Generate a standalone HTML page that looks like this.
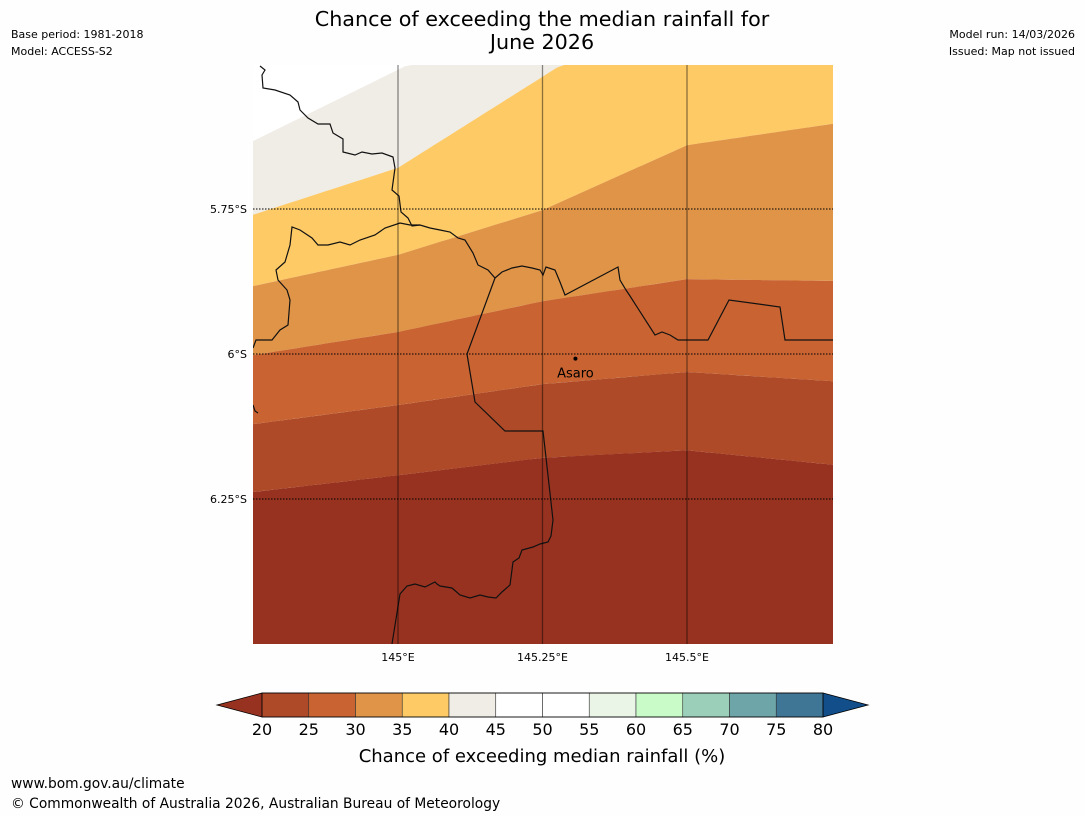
<!DOCTYPE html>
<html><head><meta charset="utf-8"><style>
html,body{margin:0;padding:0;background:#fff;width:1085px;height:816px;overflow:hidden;font-family:"Liberation Sans","DejaVu Sans",sans-serif}
svg{display:block}
svg text{font-family:"DejaVu Sans","Liberation Sans",sans-serif}
</style></head><body>
<svg id="chart" width="1085" height="816" viewBox="0 0 1085 816" xmlns="http://www.w3.org/2000/svg">
<rect width="1085" height="816" fill="#fefefe"/>
<text x="542" y="26" font-size="20.7" text-anchor="middle" fill="#000">Chance of exceeding the median rainfall for</text>
<text x="542" y="49" font-size="20.7" text-anchor="middle" fill="#000">June 2026</text>
<text x="11" y="38" font-size="11">Base period: 1981-2018</text>
<text x="11" y="55" font-size="11">Model: ACCESS-S2</text>
<text x="1075" y="38" font-size="11" text-anchor="end">Model run: 14/03/2026</text>
<text x="1075" y="55" font-size="11" text-anchor="end">Issued: Map not issued</text>
<defs><clipPath id="mapclip"><rect x="253" y="65" width="580" height="579"/></clipPath></defs>
<g id="map" clip-path="url(#mapclip)"></g>
<g id="cbar"></g>
<text x="542" y="762" font-size="18" text-anchor="middle">Chance of exceeding median rainfall (%)</text>
<text x="11" y="788" font-size="13.8">www.bom.gov.au/climate</text>
<text x="11" y="808" font-size="13.8">© Commonwealth of Australia 2026, Australian Bureau of Meteorology</text>
</svg>
<script>
const lons=[144.749,145,145.25,145.5,145.753];
const b1=[-5.633,-5.510,-5.384,-5.266,-5.143];
const b2=[-5.760,-5.679,-5.522,-5.364,-5.205];
const b3=[-5.883,-5.829,-5.752,-5.640,-5.603];
const b4=[-6.002,-5.962,-5.909,-5.871,-5.874];
const b5=[-6.121,-6.088,-6.052,-6.031,-6.047];
const b6=[-6.238,-6.209,-6.179,-6.166,-6.191];
const bandColors=["#ffffff","#f0ece6","#fdca66","#e09447","#c96432","#ae4a27","#983220"];
const lonTicks=[145,145.25,145.5];
const lonLabels=["145°E","145.25°E","145.5°E"];
const latTicks=[-5.75,-6,-6.25];
const latLabels=["5.75°S","6°S","6.25°S"];
const cbLevels=[20,25,30,35,40,45,50,55,60,65,70,75,80];
const cbColors=["#ae4a27","#c96432","#e09447","#fdca66","#f0ece6","#ffffff","#ffffff","#eaf5e8","#c8fbc8","#9ccfb9","#6ea5a8","#3f7696"];
const townName="Asaro", townLon=145.307, townLat=-6.008;

const NS="http://www.w3.org/2000/svg";
const X=lon=>398+(lon-145)*578;
const Y=lat=>209+(-5.75-lat)*580;
const clampY=y=>Math.max(65,Math.min(644,y));
const map=document.getElementById('map');
function el(tag,attrs,parent){const e=document.createElementNS(NS,tag);for(const k in attrs)e.setAttribute(k,attrs[k]);parent.appendChild(e);return e;}
const bounds=[null,b1,b2,b3,b4,b5,b6,null];
for(let i=0;i<7;i++){
  const top=bounds[i],bot=bounds[i+1];
  let pts=[];
  if(top){
    // sample densely so clamping keeps shape
    for(let j=0;j<lons.length-1;j++){
      for(let s=0;s<20;s++){const t=s/20;const l=lons[j]+(lons[j+1]-lons[j])*t;const v=top[j]+(top[j+1]-top[j])*t;pts.push(X(l)+','+clampY(Y(v)));}
    }
    pts.push(X(lons[4])+','+clampY(Y(top[4])));
  } else pts.push(X(lons[0])+',65',X(lons[4])+',65');
  const bp=[];
  if(bot) lons.forEach((l,j)=>bp.push(X(l)+','+clampY(Y(bot[j]))));
  else bp.push(X(lons[0])+',644',X(lons[4])+',644');
  pts=pts.concat(bp.reverse());
  const p=el('polygon',{points:pts.join(' '),fill:bandColors[i]},map);
  
  
}
const borders=[
"M260,66 L265,70 262,75 263,88 275,90 290,95 298,102 300,110 308,118 318,124 330,124 333,133 343,139 343,152 355,155 362,152 372,154 382,153 393,157 395,168 392,190 399,196 401,212 408,218 412,226 420,225 430,228 440,230 450,232 458,238 465,240 473,253 478,265 488,270 495,278 502,272 512,268 522,266 532,268 540,270 543,275 546,267 555,270 560,282 565,295 618,267 620,280 626,290 630,296 655,335 662,332 670,335 678,340 708,340 729,300 780,307 785,340 833,340",
"M495,278 L467,354 475,402 505,431 543,431 553,520 551,536 548,542 540,544 533,547 522,550 519,558 513,562 510,585 502,592 496,598 488,597 480,595 470,598 460,595 452,588 440,586 437,584 435,582 425,587 415,584 407,586 400,594 392,644",
"M253,348 L256,340 272,340 280,330 288,325 290,300 287,290 278,280 276,270 285,262 290,245 292,227 300,230 312,238 318,245 328,245 340,242 350,245 360,240 375,235 385,228 400,223 410,225 420,225",
"M253,405 L255,411 258,413"];
borders.forEach((d,i)=>{const p=el('path',{d:d,fill:'none',stroke:'#111',"stroke-width":1.2},map);

});
lonTicks.forEach((l,i)=>{const ln=el('line',{x1:X(l),x2:X(l),y1:65,y2:644,stroke:'rgba(0,0,0,0.45)',"stroke-width":1.3},map);

});
const svg=document.getElementById('chart');
latTicks.forEach((l,i)=>{const ln=el('line',{x1:253,x2:833,y1:Y(l),y2:Y(l),stroke:'#000',"stroke-width":1,"stroke-dasharray":"1.5,1.5"},map);


const t=el('text',{x:247,y:Y(l)+4,"font-size":11,"text-anchor":"end"},svg);t.textContent=latLabels[i];

});
lonTicks.forEach((l,i)=>{const t=el('text',{x:X(l),y:661,"font-size":11,"text-anchor":"middle"},svg);t.textContent=lonLabels[i];

});
const dot=el('circle',{cx:X(townLon),cy:Y(townLat),r:2,fill:'#000'},map);


const tt=el('text',{x:X(townLon),y:Y(townLat)+19,"font-size":13,"text-anchor":"middle"},map);tt.textContent=townName;


const cb=document.getElementById('cbar');
const CX=v=>262+(v-20)*(561/60);
const cy0=693,cy1=717;
const le=el('polygon',{points:`${CX(20)},${cy0} 217,${(cy0+cy1)/2} ${CX(20)},${cy1}`,fill:'#983220',stroke:'#000',"stroke-width":0.8},cb);


const re=el('polygon',{points:`${CX(80)},${cy0} 868,${(cy0+cy1)/2} ${CX(80)},${cy1}`,fill:'#124f8a',stroke:'#000',"stroke-width":0.8},cb);


cbColors.forEach((c,i)=>{const r=el('rect',{x:CX(cbLevels[i]),y:cy0,width:CX(cbLevels[i+1])-CX(cbLevels[i]),height:cy1-cy0,fill:c,stroke:'#333',"stroke-width":0.6},cb);

});
el('rect',{x:CX(20),y:cy0,width:CX(80)-CX(20),height:cy1-cy0,fill:'none',stroke:'#000',"stroke-width":0.8},cb);
cbLevels.forEach(v=>{const t=el('text',{x:CX(v),y:735,"font-size":16,"text-anchor":"middle"},cb);t.textContent=v;

});
</script>
</body></html>
